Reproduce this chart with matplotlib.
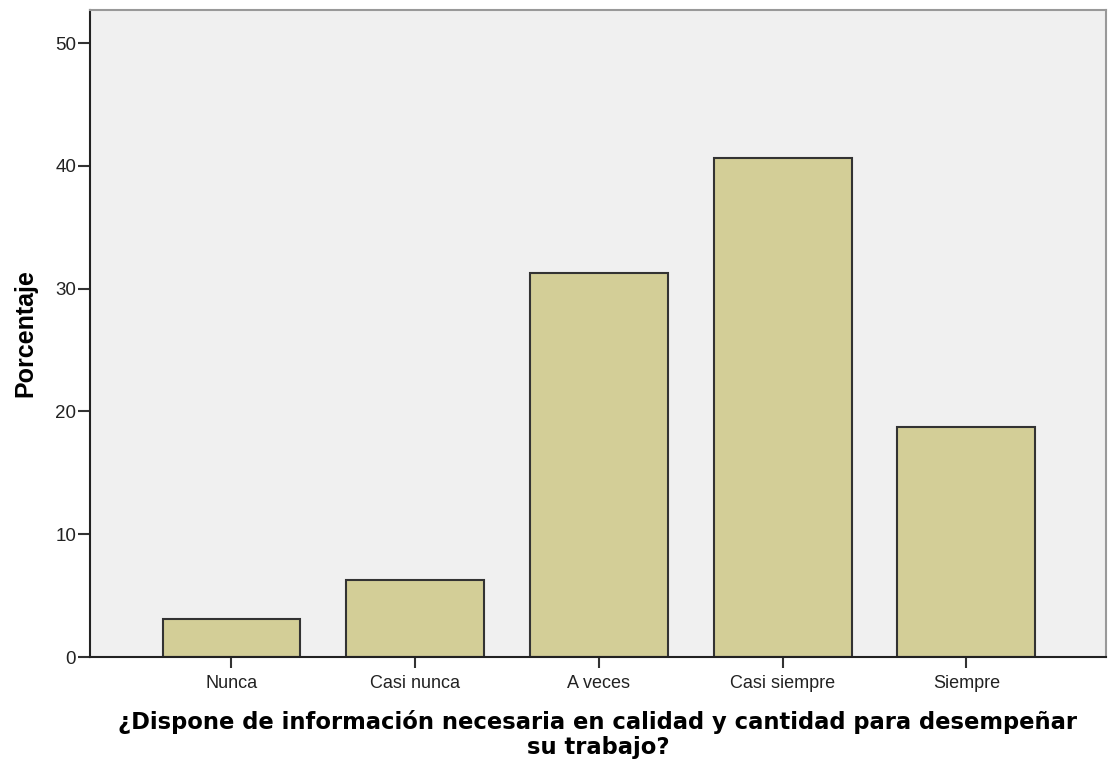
import matplotlib
matplotlib.use("Agg")
from matplotlib import pyplot as plt

categorias = ["Nunca", "Casi nunca", "A veces", "Casi siempre", "Siempre"]
porcentaje = [3.125, 6.25, 31.25, 40.625, 18.75]
yticks = [0, 10, 20, 30, 40, 50]

plt.rcParams["font.family"] = ["Liberation Sans", "DejaVu Sans"]

fig = plt.figure(figsize=(11.08, 7.6), dpi=100)
ax = fig.add_axes([90/1108, 1-657/760, (1106-90)/1108, (657-10)/760])
ax.set_facecolor("#f0f0f0")

x = range(len(categorias))
ax.bar(x, porcentaje, width=0.75, color="#d3ce97", edgecolor="#333333", linewidth=1.5, zorder=2)

ax.set_xlim(-0.77, 4.76)
ax.set_ylim(0, 52.7)
ax.set_xticks(list(x))
ax.set_xticklabels(categorias, fontsize=13, color="#222222")
ax.set_yticks(yticks)
ax.set_yticklabels([str(v) for v in yticks], fontsize=13.5, color="#222222")
ax.tick_params(axis="x", length=8, width=1.5, color="#333333", pad=5)
ax.tick_params(axis="y", length=9, width=1.5, color="#333333", pad=1)

for s in ["left", "bottom"]:
    ax.spines[s].set_color("#222222")
    ax.spines[s].set_linewidth(1.5)
for s in ["top", "right"]:
    ax.spines[s].set_color("#999999")
    ax.spines[s].set_linewidth(1.5)

ax.set_ylabel("Porcentaje", fontsize=18, fontweight="bold", labelpad=13)
ax.set_xlabel("¿Dispone de información necesaria en calidad y cantidad para desempeñar\nsu trabajo?",
              fontsize=16.3, fontweight="bold", family="DejaVu Sans", labelpad=13, linespacing=1.1)

fig.savefig("out.png", dpi=100)
